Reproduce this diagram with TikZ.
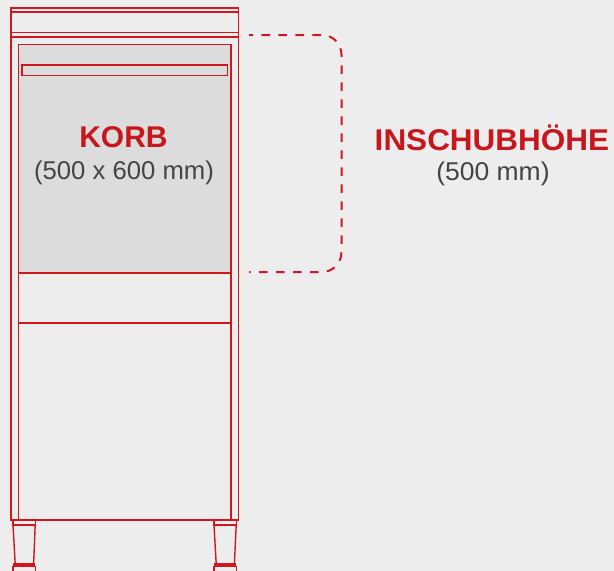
\documentclass[tikz,border=0pt]{standalone}
\usepackage{fontspec}
\setmainfont{Liberation Sans}
\definecolor{bgc}{HTML}{EDEDED}
\definecolor{fillc}{HTML}{DCDCDC}
\definecolor{redc}{HTML}{D2161E}
\definecolor{headc}{HTML}{C8161D}
\definecolor{greyc}{HTML}{444444}
\tikzset{
  cab/.style={draw=redc,line width=1.6pt},
  thin line/.style={draw=redc,line width=1.4pt},
  bracket/.style={draw=redc,line width=2pt,dash pattern=on 8.7pt off 8.3pt,dash phase=4.7pt},
  head/.style={text=headc,font=\fontsize{30}{32}\selectfont\bfseries,inner sep=0pt,anchor=center},
  sub/.style={text=greyc,font=\fontsize{25.7}{28}\selectfont,inner sep=0pt,anchor=center}
}
\begin{document}
\begin{tikzpicture}[x=1pt,y=-1pt]
\path[use as bounding box,fill=bgc] (0,0) rectangle (614,571);
% basket
\path[fill=fillc] (18.5,44.3) rectangle (231,272.8);
% cabinet
\draw[cab] (11.2,8) rectangle (238.3,520);
\draw[cab] (18.5,44.3) rectangle (231,520);
\draw[thin line] (11.2,12) -- (238.3,12);
\draw[thin line] (11.2,32.5) -- (238.3,32.5);
\draw[thin line] (11.2,37) -- (238.3,37);
\draw[cab] (21.8,65) rectangle (227.5,75.3);
\draw[cab] (18.5,272.8) -- (231,272.8);
\draw[thin line] (18.5,323) -- (231,323);
% legs
\foreach \a/\b/\c/\d in {13/15.2/33.6/35.2,214/216.2/234.4/236.2}{
  \draw[thin line] (\a,520) -- (\a,525) -- (\d,525) -- (\d,520);
  \draw[thin line] (\a,525) -- (\b,564);
  \draw[thin line] (\d,525) -- (\c,564);
  \path[fill=redc] (\a,563) rectangle (\d,567);
  \draw[thin line] (\a,566) -- (\a,571);
  \draw[thin line] (\d,566) -- (\d,571);
}
% bracket
\draw[bracket] (249,35) -- (322,35) .. controls (333,35) and (341.5,44) .. (341.5,55) -- (341.5,252) .. controls (341.5,263) and (333,272) .. (322,272) -- (249,272);
% text
\node[head] (korb) at (123.5,137.5) {KORB};
\node[sub] (korbsize) at (124,173) {(500 x 600 mm)};
\node[head,xscale=1.05] (insch) at (492,137.5) {INSCHUBHÖHE};
\node[sub,xscale=1.03] (inschsize) at (493,174) {(500 mm)};
\end{tikzpicture}
\end{document}
